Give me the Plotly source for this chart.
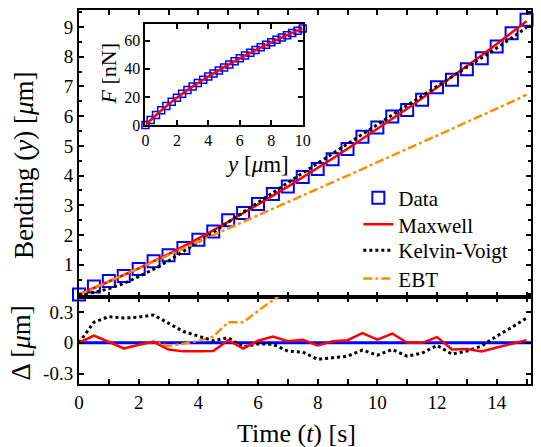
import plotly.graph_objects as go

# Time axis (s) and measured bending (um)
t = [0, 0.5, 1, 1.5, 2, 2.5, 3, 3.5, 4, 4.5, 5, 5.5, 6, 6.5, 7, 7.5,
     8, 8.5, 9, 9.5, 10, 10.5, 11, 11.5, 12, 12.5, 13, 13.5, 14, 14.5, 15]
bend_data = [0, 0.27, 0.45, 0.62, 0.86, 1.12, 1.32, 1.56, 1.84, 2.12, 2.50,
             2.74, 3.04, 3.38, 3.63, 3.95, 4.22, 4.55, 4.89, 5.31, 5.62, 5.99,
             6.21, 6.55, 6.97, 7.22, 7.58, 7.95, 8.34, 8.79, 9.24]

# Model curves
bend_maxwell = [0, 0.21, 0.43, 0.655, 0.88, 1.115, 1.36, 1.615, 1.88, 2.155,
                2.44, 2.73, 3.025, 3.325, 3.63, 3.94, 4.255, 4.575, 4.9, 5.23,
                5.565, 5.905, 6.25, 6.6, 6.955, 7.315, 7.68, 8.05, 8.425, 8.805, 9.19]
bend_kelvin = [0, 0.07, 0.19, 0.37, 0.6, 0.85, 1.13, 1.44, 1.76, 2.09, 2.43,
               2.77, 3.1, 3.43, 3.76, 4.09, 4.42, 4.74, 5.06, 5.39, 5.72, 6.04,
               6.36, 6.68, 7.0, 7.32, 7.64, 7.96, 8.29, 8.63, 8.98]
bend_ebt = [0, 0.2, 0.44, 0.67, 0.88, 1.1, 1.33, 1.56, 1.79, 2.0, 2.22, 2.44,
            2.66, 2.88, 3.1, 3.33, 3.55, 3.78, 4.0, 4.22, 4.45, 4.67, 4.9,
            5.12, 5.35, 5.57, 5.8, 6.02, 6.25, 6.48, 6.72]

# Residuals (data - model), um
res_maxwell = [0, 0.07, 0.01, -0.055, -0.02, 0.01, -0.065, -0.083, -0.082, -0.08,
               0.025, -0.055, 0.02, 0.06, 0.015, 0.03, -0.025, 0.015, 0.025, 0.095,
               0.03, 0.09, 0, 0, 0.055, -0.065, -0.06, -0.083, -0.045, -0.01, 0.025]
res_kelvin = [0, 0.2, 0.255, 0.24, 0.25, 0.27, 0.19, 0.11, 0.065, 0.02, 0.05,
              -0.04, -0.01, -0.015, -0.08, -0.09, -0.16, -0.145, -0.13, -0.07, -0.12,
              -0.065, -0.13, -0.1, -0.025, -0.11, -0.08, -0.03, 0.065, 0.15, 0.24]
t_ebt_res = [0, 0.5, 1, 1.5, 2, 2.5, 3, 3.5, 4, 4.5, 5, 5.5, 6, 6.5, 7, 7.5]
res_ebt = [0, 0.07, 0.01, -0.055, -0.02, 0.01, -0.03, -0.01, 0.02, 0.06,
           0.2, 0.2, 0.31, 0.42, 0.53, 0.62]

# Inset: force vs bending
y_inset = [0, 0.33, 0.67, 1.0, 1.33, 1.67, 2.0, 2.33, 2.67, 3.0, 3.33, 3.67,
           4.0, 4.33, 4.67, 5.0, 5.33, 5.67, 6.0, 6.33, 6.67, 7.0, 7.33, 7.67,
           8.0, 8.33, 8.67, 9.0, 9.33, 9.67, 10.0]
f_inset = [0, 3.6, 7.1, 10.5, 13.6, 16.6, 19.5, 22.2, 24.9, 27.5, 29.9, 32.2,
           34.5, 36.7, 38.9, 41.0, 43.2, 45.4, 47.5, 49.5, 51.5, 53.5, 55.4,
           57.2, 59.0, 60.7, 62.4, 64.0, 65.6, 67.2, 68.8]
y_fit = [0, 1, 2, 3, 4, 5, 6, 7, 8, 9, 10]
f_fit = [0, 10.3, 19.4, 27.4, 34.6, 41.2, 47.5, 53.4, 58.9, 64.1, 68.9]

# Tick labels
main_ticks = [1, 2, 3, 4, 5, 6, 7, 8, 9]
time_ticks = [0, 2, 4, 6, 8, 10, 12, 14]
res_ticks = [-0.3, 0, 0.3]
res_labels = ["-0.3", "0", "0.3"]
inset_x_ticks = [0, 2, 4, 6, 8, 10]
inset_y_ticks = [0, 20, 40, 60]

FONT = "Times New Roman, Liberation Serif, serif"
BLUE = "#0000FF"
RED = "#FF0000"
ORANGE = "#FF8C00"

fig = go.Figure()

# Main panel (each legend entry has its own legend box)
fig.add_trace(go.Scatter(x=t, y=bend_data, mode="markers", name="Data",
                         marker=dict(symbol="square-open", size=12, color=BLUE,
                                     line=dict(width=2, color=BLUE)),
                         xaxis="x", yaxis="y", cliponaxis=False, legend="legend"))
fig.add_trace(go.Scatter(x=t, y=bend_maxwell, mode="lines", name="Maxwell",
                         line=dict(color=RED, width=2.5), xaxis="x", yaxis="y",
                         legend="legend2"))
fig.add_trace(go.Scatter(x=t, y=bend_kelvin, mode="lines", name="Kelvin-Voigt",
                         line=dict(color="black", width=3, dash="dot"),
                         xaxis="x", yaxis="y", legend="legend3"))
fig.add_trace(go.Scatter(x=t, y=bend_ebt, mode="lines", name="EBT",
                         line=dict(color=ORANGE, width=2.5, dash="dashdot"),
                         xaxis="x", yaxis="y", legend="legend4"))

# Residual panel
fig.add_trace(go.Scatter(x=[0, 15.15], y=[0, 0], mode="lines", showlegend=False,
                         line=dict(color=BLUE, width=3), xaxis="x2", yaxis="y2"))
fig.add_trace(go.Scatter(x=t_ebt_res, y=res_ebt, mode="lines", showlegend=False,
                         line=dict(color=ORANGE, width=2.5, dash="dashdot"),
                         xaxis="x2", yaxis="y2"))
fig.add_trace(go.Scatter(x=t, y=res_kelvin, mode="lines", showlegend=False,
                         line=dict(color="black", width=3, dash="dot"),
                         xaxis="x2", yaxis="y2"))
fig.add_trace(go.Scatter(x=t, y=res_maxwell, mode="lines", showlegend=False,
                         line=dict(color=RED, width=2.5), xaxis="x2", yaxis="y2"))

# Inset
fig.add_trace(go.Scatter(x=y_inset, y=f_inset, mode="markers", showlegend=False,
                         marker=dict(symbol="square-open", size=7, color=BLUE,
                                     line=dict(width=1.5, color=BLUE)),
                         xaxis="x3", yaxis="y3", cliponaxis=False))
fig.add_trace(go.Scatter(x=y_fit, y=f_fit, mode="lines", showlegend=False,
                         line=dict(color=RED, width=2.5, shape="spline"),
                         xaxis="x3", yaxis="y3"))

axis_common = dict(showline=True, linecolor="black", linewidth=2, mirror="ticks",
                   ticks="inside", ticklen=5, tickwidth=1.5, tickcolor="black",
                   showgrid=False, zeroline=False,
                   tickfont=dict(family=FONT, size=19, color="black"))
inset_font = dict(family=FONT, size=16, color="black")


def leg(yc):
    return dict(x=0.618, y=yc, xanchor="left", yanchor="middle",
                bgcolor="rgba(0,0,0,0)", font=dict(family=FONT, size=21))


split = 0.2326
fig.update_layout(
    width=541, height=447,
    margin=dict(l=79, r=2, t=10, b=63),
    paper_bgcolor="white", plot_bgcolor="white",
    font=dict(family=FONT, color="black"),
    xaxis=dict(axis_common, domain=[0, 1], range=[0, 15.15], anchor="y",
               showticklabels=False, dtick=1, minor=dict(ticks="")),
    yaxis=dict(axis_common, domain=[split, 1], range=[-0.085, 9.57], anchor="x",
               tickvals=main_ticks,
               minor=dict(ticks="inside", ticklen=3, dtick=0.5, tickcolor="black")),
    xaxis2=dict(axis_common, domain=[0, 1], range=[0, 15.15], anchor="y2",
                tickvals=time_ticks,
                minor=dict(ticks="inside", ticklen=5, dtick=1, tickcolor="black")),
    yaxis2=dict(axis_common, domain=[0, split], range=[-0.40, 0.445], anchor="x2",
                tickvals=res_ticks, ticktext=res_labels),
    xaxis3=dict(axis_common, domain=[0.147, 0.495], range=[0, 10], anchor="y3",
                tickvals=inset_x_ticks, tickfont=inset_font),
    yaxis3=dict(axis_common, domain=[0.6925, 0.9626], range=[0, 72], anchor="x3",
                tickvals=inset_y_ticks, tickfont=inset_font),
    legend=leg(0.497), legend2=leg(0.426), legend3=leg(0.357), legend4=leg(0.281),
    showlegend=True,
    annotations=[
        dict(text="Bending (<i>y</i>) [<i>μ</i>m]", x=-0.122, y=0.585,
             xref="paper", yref="paper", xanchor="center", yanchor="middle",
             textangle=-90, showarrow=False, font=dict(family=FONT, size=27)),
        dict(text="Δ [<i>μ</i>m]", x=-0.128, y=0.109, xref="paper", yref="paper",
             xanchor="center", yanchor="middle",
             textangle=-90, showarrow=False, font=dict(family=FONT, size=27)),
        dict(text="Time (<i>t</i>) [s]", x=0.482, y=-0.088, xref="paper",
             yref="paper", yanchor="top", showarrow=False,
             font=dict(family=FONT, size=26)),
        dict(text="<i>F</i> [nN]", x=0.066, y=0.83, xref="paper", yref="paper",
             xanchor="center", yanchor="middle",
             textangle=-90, showarrow=False, font=dict(family=FONT, size=22)),
        dict(text="<i>y</i> [<i>μ</i>m]", x=0.32, y=0.588, xref="paper",
             yref="paper", showarrow=False, font=dict(family=FONT, size=23)),
    ],
)

fig.write_html("out.html")
